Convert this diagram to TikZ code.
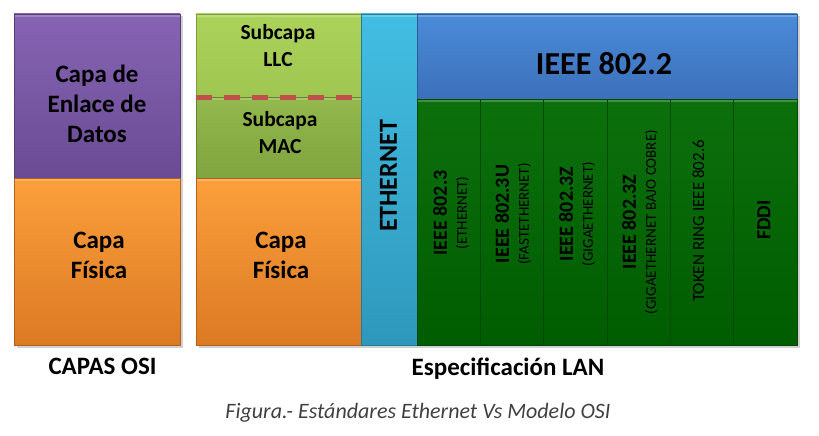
\documentclass[tikz,border=0pt]{standalone}
\usepackage{fontspec}
\setmainfont{Carlito}
\definecolor{purT}{HTML}{8664B4}
\definecolor{purB}{HTML}{6A4B93}
\definecolor{orT}{HTML}{FB9F3B}
\definecolor{orB}{HTML}{DC7A24}
\definecolor{llcT}{HTML}{ABD35A}
\definecolor{llcB}{HTML}{9FC650}
\definecolor{macT}{HTML}{93B84C}
\definecolor{macB}{HTML}{80A43F}
\definecolor{ethT}{HTML}{42BEE2}
\definecolor{ethB}{HTML}{2E98BC}
\definecolor{ieT}{HTML}{4B8BD8}
\definecolor{ieB}{HTML}{3C70BA}
\definecolor{grT}{HTML}{0C700C}
\definecolor{grB}{HTML}{005C00}
\definecolor{dashred}{HTML}{C0504D}
\definecolor{capgray}{HTML}{404040}
\tikzset{
  blk/.style 2 args={rectangle, inner sep=0pt, top color=#1, bottom color=#2,
    draw=#2!80!black, line width=0.6pt,
    path picture={\fill[white,opacity=0.22] (path picture bounding box.north west) rectangle ([yshift=-3pt]path picture bounding box.north east);}},
  lbl/.style={font=\bfseries\fontsize{25}{30}\selectfont, align=center, inner sep=0pt, text=black},
  sublbl/.style={font=\bfseries\fontsize{21.5}{27}\selectfont, align=center, inner sep=0pt, text=black},
  vlbl/.style={rotate=90, align=center, inner sep=0pt, text=black, font=\fontsize{15}{20}\selectfont},
  dashline/.style={draw=dashred, line width=5pt, dash pattern=on 16pt off 12pt},
  shadowbox/.style={fill=black, opacity=0.18}
}
\begin{document}
\begin{tikzpicture}[x=1pt,y=-1pt]
\useasboundingbox (0,0) rectangle (819,436);
% shadows
\fill[shadowbox] (16.5,16.5) rectangle (182.5,347.5);
\fill[shadowbox] (198.5,16.5) rectangle (799.5,347.5);
% OSI column
\node[blk={purT}{purB}, minimum width=166pt, minimum height=164pt] (osidl) at (97,96) {};
\node[blk={orT}{orB}, minimum width=166pt, minimum height=167pt] (osiphy) at (97,261.5) {};
% LAN column
\node[blk={llcT}{llcB}, minimum width=165pt, minimum height=83pt] (llc) at (278.5,55.5) {};
\node[blk={macT}{macB}, minimum width=165pt, minimum height=81pt] (mac) at (278.5,137.5) {};
\node[blk={orT}{orB}, minimum width=165pt, minimum height=167pt] (lanphy) at (278.5,261.5) {};
\node[blk={ethT}{ethB}, minimum width=56pt, minimum height=331pt] (eth) at (389,179.5) {};
\node[blk={ieT}{ieB}, minimum width=380pt, minimum height=85pt] (ieee) at (607,56.5) {};
\node[blk={grT}{grB}, minimum width=63pt, minimum height=246pt] (g1) at (448.5,222) {};
\node[blk={grT}{grB}, minimum width=63pt, minimum height=246pt] (g2) at (511.5,222) {};
\node[blk={grT}{grB}, minimum width=64pt, minimum height=246pt] (g3) at (575,222) {};
\node[blk={grT}{grB}, minimum width=63pt, minimum height=246pt] (g4) at (638.5,222) {};
\node[blk={grT}{grB}, minimum width=63pt, minimum height=246pt] (g5) at (701.5,222) {};
\node[blk={grT}{grB}, minimum width=64pt, minimum height=246pt] (g6) at (765,222) {};
% dashed separator
\coordinate (dl) at (196,97);
\coordinate (dr) at (354,97);
\draw[dashline] (dl) -- (dr);
% labels
\node[lbl] (tdl) at (97,103.5) {Capa de\\Enlace de\\Datos};
\node[lbl] (tphy1) at (99,255) {Capa\\Física};
\node[sublbl] (tllc) at (278,46) {Subcapa\\LLC};
\node[sublbl] (tmac) at (280,132.5) {Subcapa\\MAC};
\node[lbl] (tphy2) at (281,255) {Capa\\Física};
\node[lbl, rotate=90, font=\bfseries\fontsize{26}{30}\selectfont] (teth) at (388.5,176) {ETHERNET};
\node[lbl, font=\bfseries\fontsize{32}{36}\selectfont] (tieee) at (604,63.5) {IEEE 802.2};
\node[vlbl] (tg1) at (451,213) {{\bfseries\fontsize{20}{20}\selectfont IEEE 802.3}\\(ETHERNET)};
\node[vlbl] (tg2) at (513,214) {{\bfseries\fontsize{20}{20}\selectfont IEEE 802.3U}\\(FASTETHERNET)};
\node[vlbl] (tg3) at (577,214) {{\bfseries\fontsize{20}{20}\selectfont IEEE 802.3Z}\\(GIGAETHERNET)};
\node[vlbl] (tg4) at (640,222) {{\bfseries\fontsize{20}{20}\selectfont IEEE 802.3Z}\\(GIGAETHERNET BAJO COBRE)};
\node[vlbl, font=\fontsize{17}{20}\selectfont] (tg5) at (698.5,221) {TOKEN RING IEEE 802.6};
\node[vlbl, font=\bfseries\fontsize{20}{20}\selectfont] (tg6) at (764,220) {FDDI};
\node[lbl, anchor=base] (tosi) at (102.5,374) {CAPAS OSI};
\node[lbl, anchor=base] (tlan) at (508,375) {Especificación LAN};
\node[inner sep=0pt, anchor=base, text=capgray, font=\itshape\fontsize{22}{26}\selectfont] (tcap) at (418,418) {Figura.- Estándares Ethernet Vs Modelo OSI};
\end{tikzpicture}
\end{document}
